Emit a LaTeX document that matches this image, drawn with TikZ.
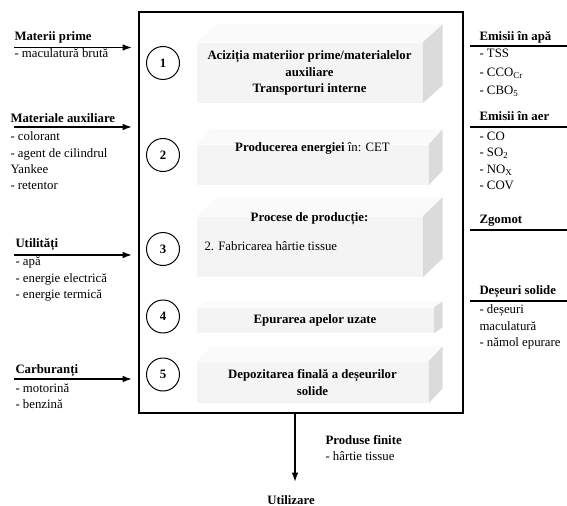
\documentclass[tikz,border=0pt]{standalone}
\usepackage{fontspec}
\setmainfont{Liberation Serif}
\usetikzlibrary{arrows.meta}

\tikzset{every picture/.style={line width=0.75pt}}
\tikzset{
  txt/.style={inner sep=0pt, align=left, font=\fontsize{9.6}{12.2}\selectfont},
  hdr/.style={inner sep=0pt, font=\fontsize{9.6}{12.2}\selectfont\bfseries},
  stagetext/.style={inner sep=0pt, align=center, font=\fontsize{9.6}{12.2}\selectfont\bfseries},
  inarrow/.style={-{Latex[length=7pt,width=5pt]}, line width=1.2pt},
  underrule/.style={line width=1.2pt},
  numcircle/.style={circle, draw, minimum size=24.75pt, inner sep=0pt,
                    font=\fontsize{9.6}{12}\selectfont\bfseries},
  front/.style={fill=gray!9, inner sep=0pt},
  topface/.style={fill=gray!4},
  sideface/.style={fill=gray!28},
}

\begin{document}
\begin{tikzpicture}[x=0.75pt, y=0.75pt, yscale=-1,xscale=1]

    \useasboundingbox (0,0) rectangle (567,506);

    % Frame
    \node [draw, line width=1.5pt, inner sep=0pt, minimum width=243pt, minimum height=300.75pt]
          (frame) at (301,212.5) {};

    % Stage 1
    \node [front, minimum width=168.75pt, minimum height=45pt] (f1) at (309.5,73) {};
    \fill [topface]  (f1.north west) -- ++(20,-18) -- ([shift={(20,-18)}]f1.north east) -- (f1.north east) -- cycle;
    \fill [sideface] (f1.north east) -- ++(20,-18) -- ([shift={(20,-18)}]f1.south east) -- (f1.south east) -- cycle;
    \node [stagetext] (t1) at (f1.center) {Acizi\char"021Bia materiior prime/materialelor\\auxiliare\\Transporturi interne};

    % Stage 2
    \node [front, minimum width=173.25pt, minimum height=30pt] (f2) at (312.5,165) {};
    \fill [topface]  (f2.north west) -- ++(14,-15) -- ([shift={(14,-15)}]f2.north east) -- (f2.north east) -- cycle;
    \fill [sideface] (f2.north east) -- ++(14,-15) -- ([shift={(14,-15)}]f2.south east) -- (f2.south east) -- cycle;
    \node [stagetext, anchor=north] (t2) at ([yshift=-2pt]f2.north) {Producerea energiei \textmd{în: CET}};

    % Stage 3
    \node [front, minimum width=168.75pt, minimum height=45pt] (f3) at (309.5,247) {};
    \fill [topface]  (f3.north west) -- ++(20,-19) -- ([shift={(20,-19)}]f3.north east) -- (f3.north east) -- cycle;
    \fill [sideface] (f3.north east) -- ++(20,-19) -- ([shift={(20,-19)}]f3.south east) -- (f3.south east) -- cycle;
    \node [stagetext, anchor=north] (t3) at ([yshift=-3pt]f3.north) {Procese de produc\char"021Bie:};
    \node [txt, anchor=west] (t3b) at (204,246) {2. Fabricarea hârtie tissue};

    % Stage 4
    \node [front, minimum width=177pt, minimum height=18.75pt] (f4) at (315,320.5) {};
    \fill [topface]  (f4.north west) -- ++(9,-6) -- ([shift={(9,-6)}]f4.north east) -- (f4.north east) -- cycle;
    \fill [sideface] (f4.north east) -- ++(9,-6) -- ([shift={(9,-6)}]f4.south east) -- (f4.south east) -- cycle;
    \node [stagetext] (t4) at (f4.center) {Epurarea apelor uzate};

    % Stage 5
    \node [front, minimum width=173.25pt, minimum height=30.75pt] (f5) at (312.5,382.5) {};
    \fill [topface]  (f5.north west) -- ++(14,-15) -- ([shift={(14,-15)}]f5.north east) -- (f5.north east) -- cycle;
    \fill [sideface] (f5.north east) -- ++(14,-15) -- ([shift={(14,-15)}]f5.south east) -- (f5.south east) -- cycle;
    \node [stagetext] (t5) at (f5.center) {Depozitarea finală a de\char"0219eurilor\\solide};

    % Numbers
    \node [numcircle] (n1) at (163,63)    {1};
    \node [numcircle] (n2) at (163,155)   {2};
    \node [numcircle] (n3) at (163,249)   {3};
    \node [numcircle] (n4) at (163,316.5) {4};
    \node [numcircle] (n5) at (163,374.5) {5};

    % Inputs: Materii prime
    \coordinate (inA) at (14,47.5);
    \draw [inarrow, shorten >=4.5pt] (inA) -- (inA -| frame.west);
    \node [hdr, anchor=west] (hA) at (14,37) {Materii prime};
    \node [txt, anchor=north west] (lA) at (14,48.5) {- maculatură brută};

    % Inputs: Materiale auxiliare
    \coordinate (inB) at (14,127);
    \draw [inarrow, shorten >=4.5pt] (inB) -- (inB -| frame.west);
    \node [hdr, anchor=west] (hB) at (10,118) {Materiale auxiliare};
    \node [txt, anchor=north west] (lB) at (10,131.5) {- colorant\\- agent de cilindrul\\Yankee\\- retentor};

    % Inputs: Utilitati
    \coordinate (inC) at (14,255);
    \draw [inarrow, shorten >=4.5pt] (inC) -- (inC -| frame.west);
    \node [hdr, anchor=west] (hC) at (15,245) {Utilită\char"021Bi};
    \node [txt, anchor=north west] (lC) at (15,256.5) {- apă\\- energie electrică\\- energie termică};

    % Inputs: Carburanti
    \coordinate (inD) at (14,379);
    \draw [inarrow, shorten >=4.5pt] (inD) -- (inD -| frame.west);
    \node [hdr, anchor=west] (hD) at (15,371) {Carburan\char"021Bi};
    \node [txt, anchor=north west] (lD) at (15,383) {- motorină\\- benzină};

    % Outputs: Emisii in apa
    \coordinate (apaL) at (470,46);
    \coordinate (apaR) at (567,46);
    \draw [underrule] (apaL) -- (apaR);
    \node [hdr, anchor=west] (hE) at (479,37) {Emisii în apă};
    \node [txt, anchor=north west, font=\fontsize{9.6}{13.9}\selectfont] (lE) at (479,48.5)
          {- TSS\\- CCO\textsubscript{Cr}\\- CBO\textsubscript{5}};

    % Outputs: Emisii in aer
    \coordinate (aerL) at (470,127);
    \coordinate (aerR) at (567,127);
    \draw [underrule] (aerL) -- (aerR);
    \node [hdr, anchor=west] (hF) at (479,116) {Emisii în aer};
    \node [txt, anchor=north west] (lF) at (479,131.5)
          {- CO\\- SO\textsubscript{2}\\- NO\textsubscript{X}\\- COV};

    % Outputs: Zgomot
    \coordinate (zgL) at (470,230);
    \coordinate (zgR) at (567,230);
    \draw [underrule] (zgL) -- (zgR);
    \node [hdr, anchor=west] (hG) at (479,221) {Zgomot};

    % Outputs: Deseuri solide
    \coordinate (dsL) at (470,301);
    \coordinate (dsR) at (567,301);
    \draw [underrule] (dsL) -- (dsR);
    \node [hdr, anchor=west] (hH) at (479,292) {De\char"0219euri solide};
    \node [txt, anchor=north west] (lH) at (479,304.5) {- de\char"0219euri\\maculatură\\- nămol epurare};

    % Product
    \coordinate (outEnd) at (295,482);
    \draw [inarrow] (frame.south -| outEnd) -- (outEnd);
    \node [hdr] (util) at (291,500) {Utilizare};
    \node [hdr, anchor=west] (hP) at (325,440) {Produse finite};
    \node [txt, anchor=west] (lP) at (325,456) {- hârtie tissue};

\end{tikzpicture}
\end{document}
